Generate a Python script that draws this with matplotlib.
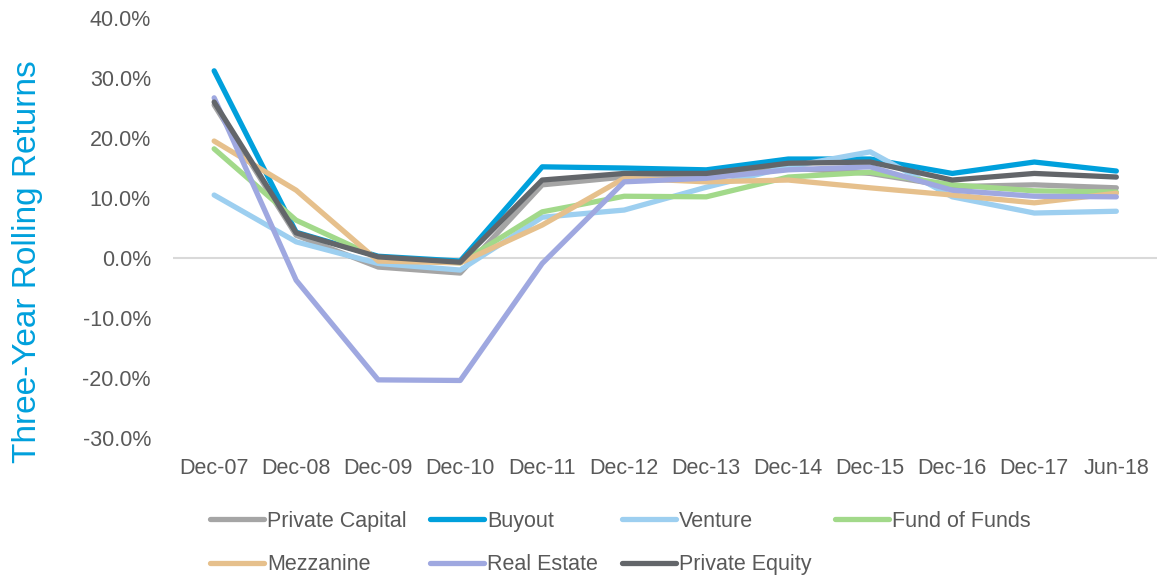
import numpy as np
import matplotlib.pyplot as plt
from matplotlib.ticker import FuncFormatter

dates = ['Dec-07', 'Dec-08', 'Dec-09', 'Dec-10', 'Dec-11', 'Dec-12',
         'Dec-13', 'Dec-14', 'Dec-15', 'Dec-16', 'Dec-17', 'Jun-18']

private_capital = [25.5, 3.8, -1.5, -2.5, 12.2, 13.5, 14.0, 15.0, 14.1, 11.9, 12.2, 11.7]
buyout = [31.2, 4.3, 0.3, -0.5, 15.2, 15.0, 14.7, 16.5, 16.5, 14.1, 16.0, 14.5]
venture = [10.5, 2.7, -0.9, -2.0, 6.8, 8.0, 11.8, 15.2, 17.7, 10.2, 7.5, 7.8]
fund_of_funds = [18.2, 6.3, 0.0, -0.8, 7.7, 10.3, 10.2, 13.5, 14.3, 12.2, 11.2, 11.0]
mezzanine = [19.5, 11.3, -0.5, -0.8, 5.5, 13.3, 12.7, 13.0, 11.7, 10.5, 9.2, 10.8]
real_estate = [26.7, -3.7, -20.3, -20.4, -0.9, 12.7, 13.3, 14.7, 15.2, 11.3, 10.3, 10.2]
private_equity = [26.0, 4.2, 0.2, -0.7, 13.0, 14.1, 14.1, 15.8, 16.0, 13.0, 14.1, 13.5]

series = [
    ('Private Capital', private_capital, '#A5A5A5'),
    ('Buyout', buyout, '#00A0DC'),
    ('Venture', venture, '#9DCFF0'),
    ('Fund of Funds', fund_of_funds, '#A2D98A'),
    ('Mezzanine', mezzanine, '#E6C08C'),
    ('Real Estate', real_estate, '#9FA8E0'),
    ('Private Equity', private_equity, '#63666A'),
]

plt.rcParams['font.family'] = ['Liberation Sans', 'DejaVu Sans']
text_color = '#595959'
fs = 15.5

fig = plt.figure(figsize=(11.62, 5.81), dpi=100)
ax = fig.add_axes([0.149, 0.246, 0.847, 0.723])

x = np.arange(len(dates))
lines = []
for name, vals, col in series:
    ln, = ax.plot(x, vals, color=col, lw=3.8, label=name, solid_capstyle='round',
                  solid_joinstyle='round')
    lines.append(ln)

ax.axhline(0, color='#D9D9D9', lw=1.5, zorder=0)
ax.set_xlim(-0.5, len(dates) - 0.5)
ax.set_ylim(-30, 40)
ax.set_yticks(np.arange(-30, 41, 10))
ax.yaxis.set_major_formatter(FuncFormatter(lambda v, p: '%.1f%%' % v))
ax.set_xticks(x)
ax.set_xticklabels(dates)
ax.tick_params(axis='both', length=0, labelsize=fs, colors=text_color)
ax.tick_params(axis='y', pad=16)
ax.tick_params(axis='x', pad=14)
for s in ax.spines.values():
    s.set_visible(False)

fig.text(0.024, 0.549, 'Three-Year Rolling Returns', rotation=90, color='#00A0DC',
         fontsize=24, ha='center', va='center')

# legend fills column by column, so reorder to get the row-wise layout
order = [0, 4, 1, 5, 2, 6, 3]
fig.legend([lines[i] for i in order], [series[i][0] for i in order],
           loc='upper left', bbox_to_anchor=(0.1807, 0.121), ncol=4, frameon=False,
           fontsize=fs, labelcolor=text_color, handlelength=2.5, handletextpad=0.15,
           columnspacing=1.1, labelspacing=1.05, borderpad=0, borderaxespad=0)

fig.savefig('out.png', dpi=100)
